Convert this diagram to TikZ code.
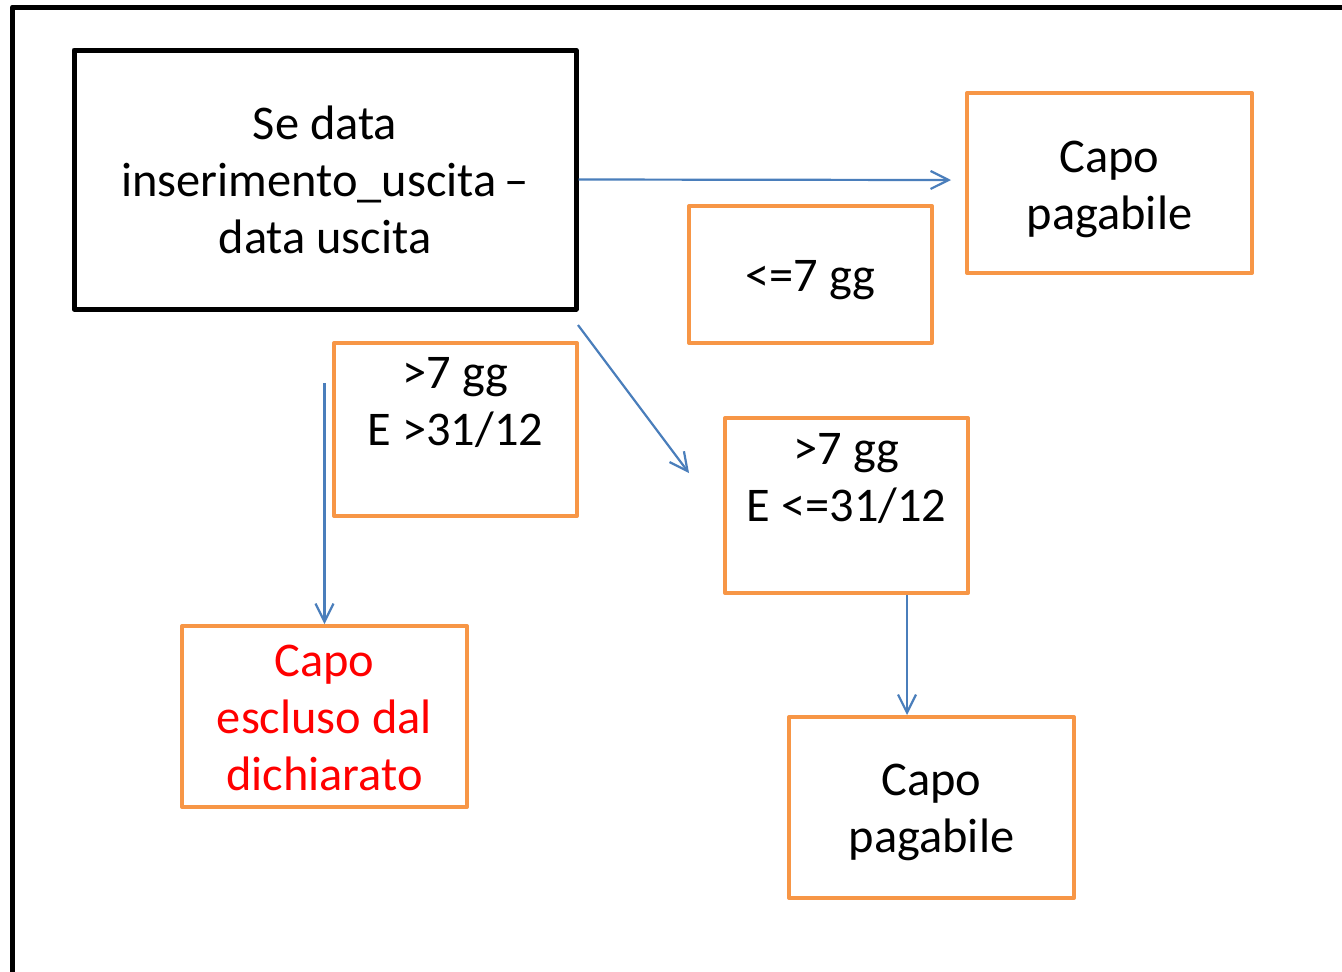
\documentclass[tikz,border=0pt]{standalone}
\usepackage{fontspec}
\setmainfont{Carlito}
\usetikzlibrary{arrows.meta}
\definecolor{boxorange}{HTML}{F79646}
\definecolor{arrblue}{HTML}{4A7EBB}
\definecolor{txtred}{HTML}{FF0000}
\begin{document}
\begin{tikzpicture}[x=0.5pt,y=-0.5pt,
  every node/.style={font=\fontsize{24.2}{28.5}\selectfont, align=center, inner sep=0pt},
  mainbox/.style={draw=black, line width=2.5pt, line join=round, rectangle},
  obox/.style={draw=boxorange, line width=2pt, line join=round, rectangle},
  arr/.style={draw=arrblue, line width=1.1pt, -{Straight Barb[length=9pt,width=9pt,line width=1.1pt]}},
  txt/.style={text=black}
]
\useasboundingbox (0,0) rectangle (1342,971);
\clip (0,0) rectangle (1342,971);
\fill[white] (0,0) rectangle (1342,971);
% outer frame
\draw[line width=2.5pt, line join=round] (1360,7) -- (12.5,7) -- (12.5,990);

\node[mainbox, minimum width=251pt, minimum height=129.5pt] (main) at (325,179.5)
  {Se data\\inserimento\_uscita\,–\\data uscita};
\node[obox, minimum width=142.5pt, minimum height=90pt] (cp1) at (1109.5,183) {};
\node[txt] (cp1t) at (1109.5,189) {Capo\\pagabile};
\node[obox, minimum width=121.5pt, minimum height=68.5pt] (le7) at (810.5,274.5) {};
\node[txt] (le7t) at (810.5,280.5) {<=7 gg};
\node[obox, minimum width=121.5pt, minimum height=86.5pt] (g1) at (455.5,429.5) {};
\node[txt] (g1t) at (455.5,402) {>7 gg\\E >31/12};
\node[obox, minimum width=121.5pt, minimum height=87.5pt] (g2) at (846.5,505.5) {};
\node[txt] (g2t) at (846.5,478) {>7 gg\\E <=31/12};
\node[obox, minimum width=142.5pt, minimum height=90.5pt] (esc) at (324.5,716.5) {};
\node[text=txtred] (esct) at (324.5,718) {Capo\\escluso dal\\dichiarato};
\node[obox, minimum width=142.5pt, minimum height=90.5pt] (cp2) at (931.5,807.5) {};
\node[txt] (cp2t) at (931.5,812.5) {Capo\\pagabile};

% arrows
\coordinate (a1e) at (951,180);
\draw[arr] (main.east) -- (a1e);
\coordinate (a2s) at (578,325);
\coordinate (a2e) at (689,473);
\draw[arr] (a2s) -- (a2e);
\coordinate (a3s) at (324.5,383);
\draw[arr] (a3s) -- (esc.north);
\draw[arr] ([xshift=30.25pt]g2.south) -- ([xshift=30.25pt]g2.south |- cp2.north);
\end{tikzpicture}
\end{document}
